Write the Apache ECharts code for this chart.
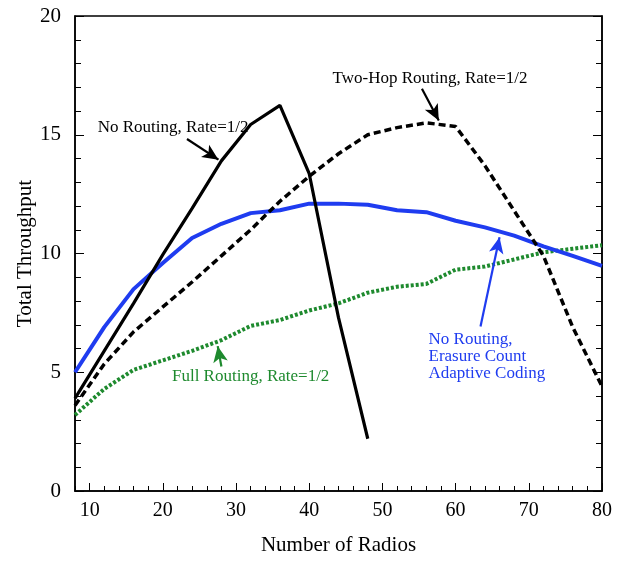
<!DOCTYPE html>
<html><head><meta charset="utf-8">
<script src="https://cdn.jsdelivr.net/npm/echarts@6/dist/echarts.min.js"></script>
<style>html,body{margin:0;padding:0;background:#fff}#c{width:630px;height:561px}</style>
</head><body><div id="c"></div>
<script>
const radios = [8,12,16,20,24,28,32,36,40,44,48,52,56,60,64,68,72,76,80];
const noRoutingX = [8,12,16,20,24,28,32,36,40,44,48];
const noRouting = [3.9,5.9,7.9,9.95,11.9,13.9,15.43,16.24,13.36,7.3,2.2];
const twoHop = [3.6,5.35,6.7,7.75,8.8,9.9,11.0,12.2,13.25,14.2,15.0,15.3,15.5,15.35,13.7,11.8,9.9,6.9,4.4];
const fullRouting = [3.2,4.3,5.1,5.5,5.9,6.35,6.95,7.2,7.6,7.9,8.35,8.6,8.72,9.32,9.45,9.75,10.05,10.2,10.35];
const adaptive = [5.0,6.9,8.5,9.6,10.65,11.25,11.7,11.82,12.1,12.1,12.05,11.82,11.74,11.38,11.1,10.75,10.3,9.9,9.48];
const xMajorTicks = [10,20,30,40,50,60,70,80];

const FONT = 'Liberation Serif';
const BLUE = '#1f3cf0';
const GREEN = '#1e8a2e';
const pair = (xs, ys) => xs.map((x, i) => [x, ys[i]]);

const chart = echarts.init(document.getElementById('c'), null, {renderer: 'canvas'});
const arrow = (from, to, color) => ({
  silent: true, symbol: ['none', 'arrow'], symbolSize: [11, 16],
  label: {show: false}, lineStyle: {color, width: 2.2, type: 'solid'},
  data: [[{coord: from}, {coord: to}]]
});
const note = (coord, text, color, align) => ({
  silent: true, symbol: 'circle', symbolSize: 0,
  data: [{coord, value: text}],
  label: {show: true, position: 'inside', formatter: p => p.value, color,
    fontFamily: FONT, fontSize: 17, lineHeight: 17, align: align || 'center', verticalAlign: 'middle'}
});

chart.setOption({
  animation: false,
  backgroundColor: '#fff',
  grid: {left: 75, right: 28, top: 16, bottom: 69, show: true, borderColor: '#000', borderWidth: 1.5, backgroundColor: 'transparent'},
  xAxis: [{
    type: 'value', min: 8, max: 80, interval: 2,
    name: 'Number of Radios', nameLocation: 'middle', nameGap: 44,
    nameTextStyle: {fontFamily: FONT, fontSize: 21, color: '#000'},
    axisLine: {show: true, lineStyle: {color: '#000', width: 1.5}},
    axisTick: {show: true, inside: true, length: 5, lineStyle: {color: '#000', width: 1}},
    axisLabel: {show: true, margin: 10, fontFamily: FONT, fontSize: 20, color: '#000',
      formatter: v => (v % 10 === 0 ? String(v) : ''), showMinLabel: true, showMaxLabel: true},
    splitLine: {show: false}
  }, {
    type: 'value', min: 8, max: 80, position: 'bottom', gridIndex: 0,
    axisLine: {show: false},
    axisTick: {show: true, inside: true, length: 8, customValues: xMajorTicks, lineStyle: {color: '#000', width: 1}},
    axisLabel: {show: false},
    splitLine: {show: false}
  }],
  yAxis: [{
    type: 'value', min: 0, max: 20, interval: 5,
    name: 'Total Throughput', nameLocation: 'middle', nameGap: 39, nameMoveOverlap: false,
    nameTextStyle: {fontFamily: FONT, fontSize: 21, color: '#000'},
    axisLine: {show: true, lineStyle: {color: '#000', width: 1.5}},
    axisTick: {show: true, inside: true, length: 9, lineStyle: {color: '#000', width: 1}},
    minorTick: {show: true, splitNumber: 5, length: 6, lineStyle: {color: '#000', width: 1}},
    axisLabel: {margin: 14, fontFamily: FONT, fontSize: 21, color: '#000'},
    splitLine: {show: false}
  }, {
    type: 'value', min: 0, max: 20, interval: 5, position: 'right',
    axisLine: {show: true, lineStyle: {color: '#000', width: 1.5}},
    axisTick: {show: true, inside: true, length: 9, lineStyle: {color: '#000', width: 1}},
    minorTick: {show: true, splitNumber: 5, length: 6, lineStyle: {color: '#000', width: 1}},
    axisLabel: {show: false},
    splitLine: {show: false}
  }],
  series: [
    {name: 'Full Routing, Rate=1/2', type: 'line', data: pair(radios, fullRouting), showSymbol: false,
      lineStyle: {color: GREEN, width: 4, type: [3, 2], cap: 'butt'}, z: 2,
      markLine: arrow([28, 5.24], [27.5, 6.1], GREEN),
      markPoint: note([32, 4.82], 'Full Routing, Rate=1/2', GREEN)},
    {name: 'No Routing, Erasure Count Adaptive Coding', type: 'line', data: pair(radios, adaptive), showSymbol: false,
      lineStyle: {color: BLUE, width: 4}, z: 3,
      markLine: arrow([63.4, 6.93], [66, 10.68], BLUE),
      markPoint: note([56.3, 5.68], 'No Routing,\nErasure Count\nAdaptive Coding', BLUE, 'left')},
    {name: 'Two-Hop Routing, Rate=1/2', type: 'line', data: pair(radios, twoHop), showSymbol: false,
      lineStyle: {color: '#000', width: 3.5, type: [7, 4], cap: 'butt'}, z: 4,
      markLine: arrow([55.4, 16.94], [57.7, 15.6], '#000'),
      markPoint: note([56.5, 17.36], 'Two-Hop Routing, Rate=1/2', '#000')},
    {name: 'No Routing, Rate=1/2', type: 'line', data: pair(noRoutingX, noRouting), showSymbol: false,
      lineStyle: {color: '#000', width: 3.2}, z: 5,
      markLine: arrow([23.3, 14.82], [27.6, 13.95], '#000'),
      markPoint: note([21.4, 15.3], 'No Routing, Rate=1/2', '#000')}
  ]
});
</script></body></html>
